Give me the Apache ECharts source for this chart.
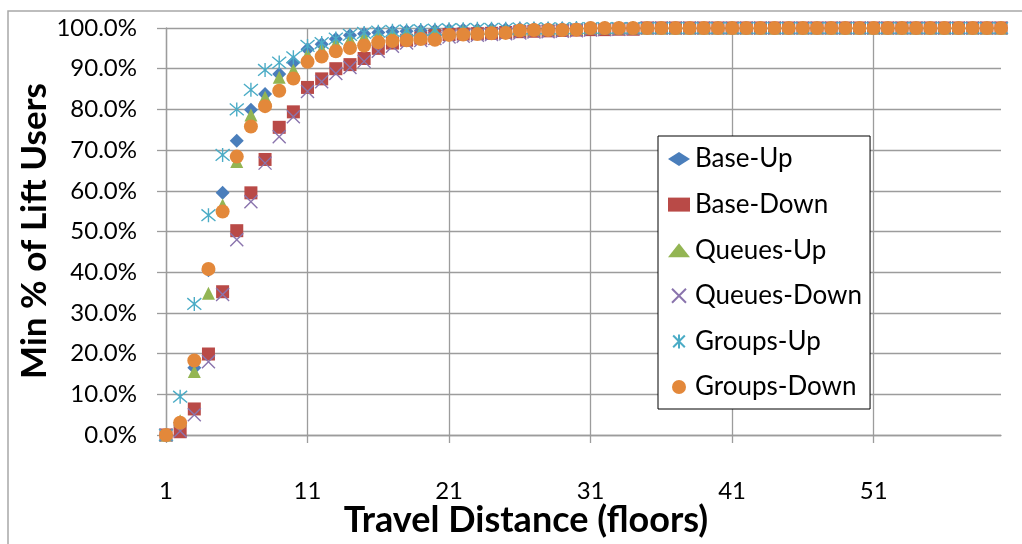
<!DOCTYPE html>
<html>
<head>
<meta charset="utf-8">
<script src="https://cdn.jsdelivr.net/npm/echarts@6/dist/echarts.min.js"></script>
<style>
html,body{margin:0;padding:0;background:#fff;}
#chart{width:1022px;height:544px;}
</style>
</head>
<body>
<div id="chart"></div>
<script>
// Travel distance (floors) 1..60
var floors = [];
for (var i = 1; i <= 60; i++) floors.push(String(i));

var xTickLabels = ['1', '11', '21', '31', '41', '51'];
var yTickValues = [0, 10, 20, 30, 40, 50, 60, 70, 80, 90, 100];

var seriesNames = ['Base-Up', 'Base-Down', 'Queues-Up', 'Queues-Down', 'Groups-Up', 'Groups-Down'];

var baseUp = [0, 3.0, 16.5, 40.5, 59.5, 72.3, 79.9, 83.8, 88.7, 91.5,
  94.8, 96.0, 97.3, 98.2, 98.6, 98.9, 99.1, 99.2, 99.3, 99.4,
  99.5, 99.6, 99.6, 99.7, 99.7, 99.8, 99.8, 99.8, 99.9, 99.9,
  100, 100, 100, 100, 100, 100, 100, 100, 100, 100,
  100, 100, 100, 100, 100, 100, 100, 100, 100, 100,
  100, 100, 100, 100, 100, 100, 100, 100, 100, 100];

var baseDown = [0, 0.8, 6.4, 19.9, 35.2, 50.2, 59.5, 67.7, 75.6, 79.4,
  85.4, 87.5, 90.0, 91.0, 92.5, 95.0, 96.3, 97.0, 97.5, 98.1,
  98.4, 98.5, 98.6, 98.7, 98.9, 99.1, 99.2, 99.3, 99.4, 99.5,
  99.6, 99.6, 99.7, 99.7, 100, 100, 100, 100, 100, 100,
  100, 100, 100, 100, 100, 100, 100, 100, 100, 100,
  100, 100, 100, 100, 100, 100, 100, 100, 100, 100];

var queuesUp = [0, 3.5, 15.6, 34.8, 56.5, 67.2, 78.6, 83.0, 87.9, 89.7,
  93.4, 94.8, 96.2, 97.2, 97.8, 98.3, 98.6, 98.9, 99.1, 99.2,
  99.3, 99.4, 99.5, 99.6, 99.6, 99.7, 99.7, 99.8, 99.8, 99.9,
  100, 100, 100, 100, 100, 100, 100, 100, 100, 100,
  100, 100, 100, 100, 100, 100, 100, 100, 100, 100,
  100, 100, 100, 100, 100, 100, 100, 100, 100, 100];

var queuesDown = [0, 1.0, 5.0, 18.0, 34.5, 48.0, 57.3, 66.8, 73.3, 78.2,
  84.4, 86.8, 88.8, 90.3, 91.8, 94.3, 95.5, 96.3, 96.9, 97.4,
  97.8, 98.0, 98.2, 98.4, 98.6, 98.8, 99.0, 99.1, 99.2, 99.3,
  99.5, 99.6, 99.7, 99.8, 100, 100, 100, 100, 100, 100,
  100, 100, 100, 100, 100, 100, 100, 100, 100, 100,
  100, 100, 100, 100, 100, 100, 100, 100, 100, 100];

var groupsUp = [0, 9.4, 32.2, 54.0, 68.8, 80.0, 84.8, 89.7, 91.5, 92.8,
  95.6, 96.3, 97.4, 98.3, 98.8, 99.1, 99.3, 99.4, 99.5, 99.6,
  99.7, 99.7, 99.8, 99.8, 99.8, 99.9, 99.9, 99.9, 99.9, 100,
  100, 100, 100, 100, 100, 100, 100, 100, 100, 100,
  100, 100, 100, 100, 100, 100, 100, 100, 100, 100,
  100, 100, 100, 100, 100, 100, 100, 100, 100, 100];

var groupsDown = [0, 3.0, 18.3, 40.8, 54.9, 68.4, 75.8, 80.8, 84.6, 87.6,
  91.7, 93.0, 94.3, 95.1, 95.7, 96.5, 96.8, 97.0, 97.3, 97.1,
  98.3, 98.4, 98.5, 98.7, 98.8, 99.4, 99.5, 99.5, 99.5, 99.6,
  100, 100, 100, 100, 100, 100, 100, 100, 100, 100,
  100, 100, 100, 100, 100, 100, 100, 100, 100, 100,
  100, 100, 100, 100, 100, 100, 100, 100, 100, 100];

var chart = echarts.init(document.getElementById('chart'), null, {renderer: 'canvas'});

var FONT = 'Lato, "Open Sans", sans-serif';
var gridColor = '#9c9c9c';

function filled(name, data, symbol, size, color) {
  return {
    name: name, type: 'scatter', data: data, symbol: symbol, symbolSize: size,
    itemStyle: {color: color, opacity: 1},
    emphasis: {disabled: true}
  };
}
function stroked(name, data, path, size, color) {
  return {
    name: name, type: 'scatter', data: data, symbol: path, symbolSize: size,
    itemStyle: {color: 'rgba(0,0,0,0)', borderColor: color, borderWidth: 1.4, opacity: 1},
    emphasis: {disabled: true}
  };
}

var option = {
  animation: false,
  backgroundColor: '#ffffff',
  grid: {left: 166, right: 21, top: 28, bottom: 109, containLabel: false},
  xAxis: {
    type: 'category',
    data: floors,
    boundaryGap: false,
    axisLine: {show: true, lineStyle: {color: gridColor, width: 1.3}},
    axisTick: {show: true, interval: 9, length: 8, lineStyle: {color: gridColor, width: 1.3}},
    axisLabel: {
      interval: 9, fontSize: 24, fontFamily: FONT, color: '#000', margin: 44,
      formatter: function (v) { return xTickLabels.indexOf(v) >= 0 ? v : ''; }
    },
    splitLine: {show: true, interval: 9, lineStyle: {color: gridColor, width: 1.3}}
  },
  yAxis: {
    type: 'value', min: yTickValues[0], max: yTickValues[yTickValues.length - 1], interval: 10,
    axisLine: {show: true, lineStyle: {color: gridColor, width: 1.3}},
    axisTick: {show: true, length: 9, lineStyle: {color: gridColor, width: 1.3}},
    axisLabel: {
      fontSize: 24, fontFamily: FONT, color: '#000', margin: 29,
      formatter: function (v) { return v.toFixed(1) + '%'; }
    },
    splitLine: {show: true, lineStyle: {color: gridColor, width: 1.3}}
  },
  legend: {
    orient: 'vertical', left: 658, top: 136,
    padding: [9, 8, 8, 10], itemGap: 17.6, itemWidth: 22, itemHeight: 14,
    backgroundColor: '#fff', borderColor: '#000', borderWidth: 1,
    textStyle: {fontSize: 26, fontFamily: FONT, color: '#000', lineHeight: 28},
    data: seriesNames
  },
  series: [
    filled(seriesNames[0], baseUp, 'diamond', 14, '#4a7ebb'),
    filled(seriesNames[1], baseDown, 'rect', 13, '#b94a47'),
    filled(seriesNames[2], queuesUp, 'triangle', 13, '#93b553'),
    stroked(seriesNames[3], queuesDown, 'path://M0,0L10,10M10,0L0,10', 13, '#8a74ad'),
    stroked(seriesNames[4], groupsUp, 'path://M0,0L10,10M10,0L0,10M5,-1L5,11', 14, '#4bacc6'),
    filled(seriesNames[5], groupsDown, 'circle', 14, '#e3883a')
  ],
  graphic: [
    {type: 'polyline', silent: true, shape: {points: [[8, 544], [8, 11], [1022, 11]]},
     style: {stroke: '#a8a8a8', lineWidth: 1.5, fill: null}},
    {type: 'text', silent: true, x: 526, y: 520,
     style: {text: 'Travel Distance (floors)', font: 'bold 36px ' + FONT, fill: '#000',
             textAlign: 'center', textVerticalAlign: 'middle'}},
    {type: 'text', silent: true, x: 35, y: 231, rotation: Math.PI / 2,
     style: {text: 'Min % of Lift Users', font: 'bold 35px ' + FONT, fill: '#000',
             textAlign: 'center', textVerticalAlign: 'middle'}}
  ]
};
chart.setOption(option);
</script>
</body>
</html>
